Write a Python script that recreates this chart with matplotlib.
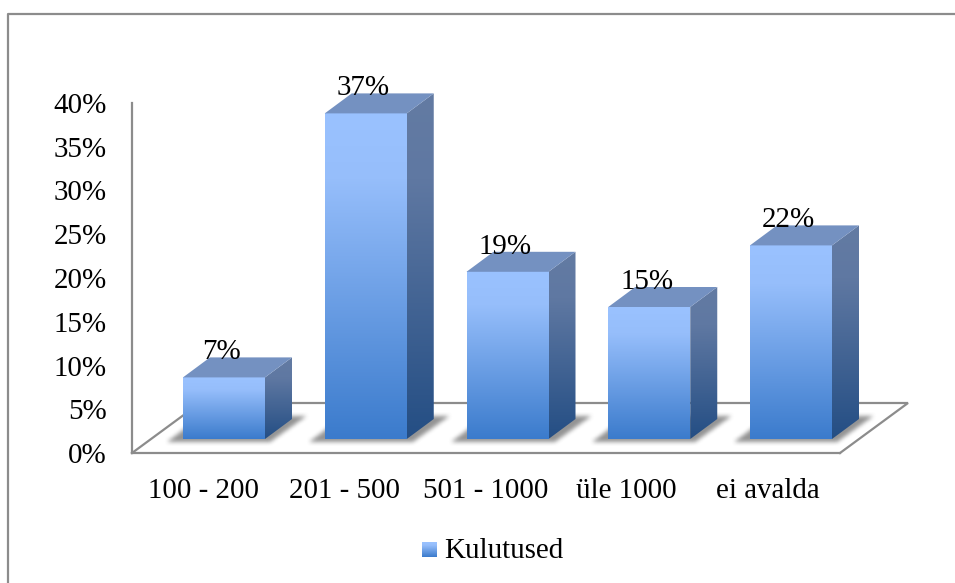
import numpy as np
import matplotlib
matplotlib.use("Agg")
import matplotlib.pyplot as plt
from matplotlib.colors import LinearSegmentedColormap
from matplotlib.lines import Line2D
from matplotlib.patches import Polygon

categories = ["100 - 200", "201 - 500", "501 - 1000", "üle 1000", "ei avalda"]
values = [7, 37, 19, 15, 22]
y_ticks = [0, 5, 10, 15, 20, 25, 30, 35, 40]
series_name = "Kulutused"

W, H = 955, 583
plt.rcParams["font.family"] = ["Liberation Serif", "DejaVu Serif"]
FS = 20.9

front_cm = LinearSegmentedColormap.from_list(
    "front", [(0, "#9ac2ff"), (0.2, "#96befb"), (1, "#3b7bcc")])
side_cm = LinearSegmentedColormap.from_list(
    "side", [(0, "#637ba3"), (0.25, "#5f78a2"), (1, "#244e84")])
top_color = "#7491c1"
line_color = "#8c8c8c"


def px_axes(x0, y0, x1, y1):
    # axes placed by pixel box, y counted from the top of the figure
    return fig.add_axes([x0 / W, 1 - y1 / H, (x1 - x0) / W, (y1 - y0) / H])


def blur(a, n=5):
    # two box passes along each direction
    kernel = np.ones(n) / n
    for _ in range(2):
        a = np.apply_along_axis(lambda r: np.convolve(r, kernel, "same"), 0, a)
        a = np.apply_along_axis(lambda r: np.convolve(r, kernel, "same"), 1, a)
    return a


def shadow_image():
    # blurred parallelogram footprint, u and w in px from the bar's front left corner
    u, w = np.meshgrid(np.arange(-30, 140), np.arange(40, -10, -1))
    mask = (w >= -2) & (w <= 23) & (u >= -13 + w * 1.3) & (u <= 90 + w * 1.4)
    rgba = np.zeros(mask.shape + (4,))
    rgba[..., :3] = 0.3
    rgba[..., 3] = blur(mask.astype(float)) * 0.6
    return rgba


fig = plt.figure(figsize=(W / 100, H / 100), dpi=100)

# outer chart frame, only top and left stay inside the image
fig.add_artist(Line2D([7.5 / W, 7.5 / W, 1], [0, 1 - 13.5 / H, 1 - 13.5 / H],
                      color=line_color, lw=1.6, transform=fig.transFigure))

# x scale: 141.75 px per category, first bar centred at 224 px
px_per_cat = 141.75
xlim = ((132 - 224) / px_per_cat, (840 - 224) / px_per_cat)

# wall axes carries the ticks
ax = px_axes(132, 103, 840, 453)
ax.set_xlim(xlim)
ax.set_ylim(0, 40)
ax.set_facecolor("none")
for s in ("top", "right"):
    ax.spines[s].set_visible(False)
for s in ("left", "bottom"):
    ax.spines[s].set_color(line_color)
    ax.spines[s].set_linewidth(1.6)
ax.set_yticks(y_ticks)
ax.set_yticklabels([f"{v}%" for v in y_ticks], fontsize=FS, color="black")
ax.set_xticks((np.arange(len(categories)) * 141 - 20.5) / px_per_cat)
ax.set_xticklabels(categories, fontsize=FS, color="black")
ax.tick_params(axis="y", length=0, pad=18)
ax.tick_params(axis="x", length=0, pad=18)

# bars axes: same box, bars stand on a base 14 px above the front floor edge
y_scale = 8.8
ylim = (-14 / y_scale, (350 - 14) / y_scale)
bx = px_axes(132, 103, 840, 453)
bx.set_xlim(xlim)
bx.set_ylim(ylim)
bx.axis("off")

half_w = 41 / px_per_cat
dx = 27 / px_per_cat
dy = 20 / y_scale
floor_dx = 68 / px_per_cat
floor_dy = 50 / y_scale

# floor outline
fx0, fx1 = xlim
fy = ylim[0]
bx.plot([fx0, fx0 + floor_dx, fx1 + floor_dx, fx1],
        [fy, fy + floor_dy, fy + floor_dy, fy],
        color=line_color, lw=1.6, clip_on=False, zorder=1,
        solid_joinstyle="miter")

gradient = np.linspace(0, 1, 256).reshape(-1, 1)
shadow = shadow_image()

for i, v in enumerate(values):
    xl, xr = i - half_w, i + half_w

    # soft shadow on the floor
    bx.imshow(shadow, aspect="auto", interpolation="bilinear", zorder=2,
              extent=(xl - 30 / px_per_cat, xl + 140 / px_per_cat,
                      -10 / y_scale, 40 / y_scale), clip_on=False)

    # front face
    bx.imshow(gradient, cmap=front_cm, extent=(xl, xr, 0, v), aspect="auto",
              origin="upper", interpolation="bilinear", zorder=3 + i,
              clip_on=False)

    # side face, gradient clipped to the parallelogram
    side = Polygon([(xr, 0), (xr + dx, dy), (xr + dx, v + dy), (xr, v)],
                   closed=True, transform=bx.transData)
    im = bx.imshow(gradient, cmap=side_cm, extent=(xr, xr + dx, 0, v + dy),
                   aspect="auto", origin="upper", interpolation="bilinear",
                   zorder=3 + i)
    im.set_clip_path(side)
    im.set_clip_box(fig.bbox)

    # top face
    bx.add_patch(Polygon([(xl, v), (xr, v), (xr + dx, v + dy), (xl + dx, v + dy)],
                         closed=True, facecolor=top_color, edgecolor="none",
                         clip_on=False, zorder=3 + i))

    bx.text(i - 2.5 / px_per_cat, v + 18 / y_scale, f"{v}%", fontsize=FS,
            ha="center", va="baseline", color="black", clip_on=False, zorder=20)

bx.set_xlim(xlim)
bx.set_ylim(ylim)

# legend swatch and label
lg = px_axes(422, 542, 437, 557)
lg.imshow(gradient, cmap=front_cm, aspect="auto", origin="upper",
          interpolation="bilinear")
lg.axis("off")
fig.text(444 / W, 1 - 558 / H, series_name, fontsize=FS, ha="left",
         va="baseline", color="black")

fig.savefig("out.png", dpi=100)
